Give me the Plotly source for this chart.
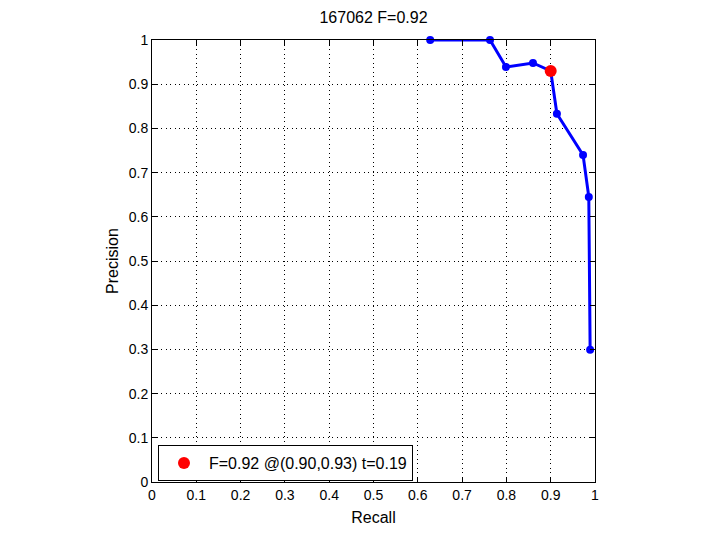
import plotly.graph_objects as go

recall = [0.628, 0.763, 0.799, 0.860, 0.914, 0.973, 0.986, 0.989]
precision = [1.0, 1.0, 0.939, 0.948, 0.833, 0.740, 0.645, 0.299]
best_r = [0.90]
best_p = [0.93]
best_label = "F=0.92 @(0.90,0.93) t=0.19"
title_text = "167062 F=0.92"
tick_vals = [0, 0.1, 0.2, 0.3, 0.4, 0.5, 0.6, 0.7, 0.8, 0.9, 1]
tick_text = ["0", "0.1", "0.2", "0.3", "0.4", "0.5", "0.6", "0.7", "0.8", "0.9", "1"]

# curve with red point inserted in order of the path
curve_r = recall[:4] + best_r + recall[4:]
curve_p = precision[:4] + best_p + precision[4:]

fig = go.Figure()
fig.add_trace(go.Scatter(
    x=curve_r, y=curve_p, mode="lines", showlegend=False,
    line=dict(color="#0000ff", width=3), cliponaxis=False,
))
fig.add_trace(go.Scatter(
    x=recall, y=precision, mode="markers", showlegend=False,
    marker=dict(color="#0000ff", size=8), cliponaxis=False,
))
fig.add_trace(go.Scatter(
    x=best_r, y=best_p, mode="markers", name=best_label,
    marker=dict(color="#ff0000", size=12), cliponaxis=False,
))

axis_common = dict(
    range=[0, 1], tickvals=tick_vals, ticktext=tick_text,
    showline=True, linecolor="black", linewidth=1, mirror="ticks",
    ticks="inside", ticklen=5, tickcolor="black",
    showgrid=True, gridcolor="black", gridwidth=1, griddash="1px,3.5px",
    zeroline=False, tickfont=dict(size=14, color="black"),
)

# page body adds 8px offset; margins compensate so plot box sits at 152..595 x 40..482
fig.update_layout(
    width=720, height=540,
    margin=dict(l=144, r=133, t=32, b=66),
    paper_bgcolor="white", plot_bgcolor="white",
    font=dict(family="Liberation Sans, Arial, sans-serif", size=14, color="black"),
    title=dict(text=title_text, x=(144 + 587) / 2 / 720, xanchor="center",
               y=1 - 9 / 540, yanchor="middle", font=dict(size=16)),
    xaxis=dict(axis_common, title=dict(text="Recall", standoff=10, font=dict(size=16))),
    yaxis=dict(axis_common, title=dict(text="Precision", standoff=6, font=dict(size=16))),
    legend=dict(x=0.0135, y=0.0837, xanchor="left", yanchor="top",
                bgcolor="white", bordercolor="black", borderwidth=1,
                itemwidth=40, font=dict(size=16)),
)

fig.write_html("out.html")
